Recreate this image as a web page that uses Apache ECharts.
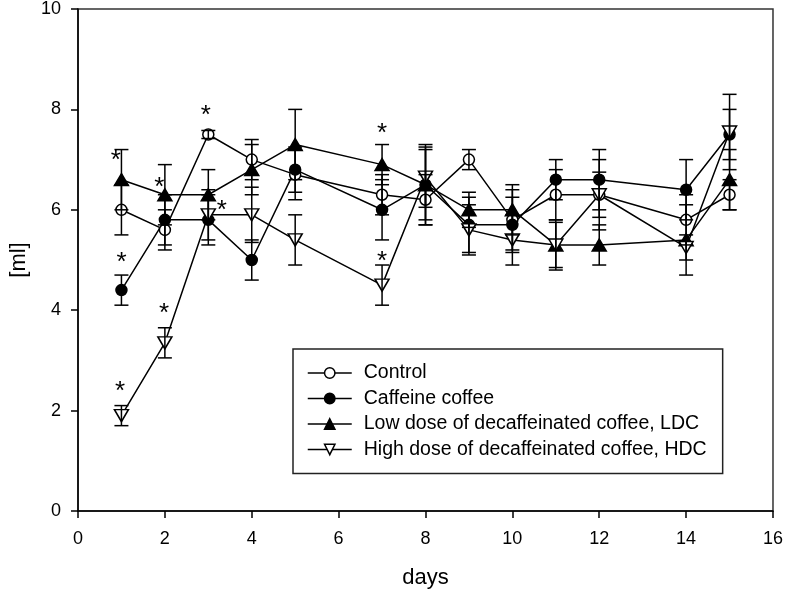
<!DOCTYPE html>
<html>
<head>
<meta charset="utf-8">
<script src="https://cdn.jsdelivr.net/npm/echarts@6/dist/echarts.min.js"></script>
<style>
html,body{margin:0;padding:0;background:#fff;}
#c{width:786px;height:594px;}
</style>
</head>
<body>
<div id="c"></div>
<script>
// ---- data ----
var days = [1, 2, 3, 4, 5, 7, 8, 9, 10, 11, 12, 14, 15];
var control     = [6.0, 5.6, 7.5, 7.0, 6.7, 6.3, 6.2, 7.0, 5.8, 6.3, 6.3, 5.8, 6.3];
var controlErr  = [0.5, 0.4, 0.08, 0.4, 0.5, 0.4, 0.5, 0.2, 0.6, 0.5, 0.45, 0.5, 0.3];
var caffeine    = [4.4, 5.8, 5.8, 5.0, 6.8, 6.0, 6.5, 5.7, 5.7, 6.6, 6.6, 6.4, 7.5];
var caffeineErr = [0.3, 0.5, 0.5, 0.4, 0.45, 0.6, 0.7, 0.55, 0.55, 0.4, 0.6, 0.6, 0.5];
var ldc         = [6.6, 6.3, 6.3, 6.8, 7.3, 6.9, 6.5, 6.0, 6.0, 5.3, 5.3, 5.4, 6.6];
var ldcErr      = [0.6, 0.6, 0.5, 0.5, 0.7, 0.4, 0.8, 0.35, 0.5, 0.5, 0.4, 0.7, 0.6];
var hdc         = [1.9, 3.35, 5.9, 5.9, 5.4, 4.5, 6.65, 5.6, 5.4, 5.3, 6.3, 5.25, 7.55];
var hdcErr      = [0.2, 0.3, 0.5, 0.55, 0.5, 0.4, 0.6, 0.5, 0.5, 0.45, 0.7, 0.25, 0.75];
var seriesNames = ['Control', 'Caffeine coffee', 'Low dose of decaffeinated coffee, LDC', 'High dose of decaffeinated coffee, HDC'];
// significance asterisks (day, ml)
var starX = [0.87, 1.0, 0.97, 1.87, 1.98, 2.94, 3.31, 7.0, 7.0];
var starY = [7.09, 5.06, 2.49, 6.55, 4.04, 7.99, 6.1, 7.63, 5.08];
var xTicks = [0, 16, 2];
var yTicks = [0, 10, 2];

// ---- chart ----
var FONT = 'Liberation Sans, Arial, Helvetica, sans-serif';
var chart = echarts.init(document.getElementById('c'), null, {renderer: 'canvas'});

function pts(v) { return days.map(function (d, i) { return [d, v[i]]; }); }
function errs(v, e) { return days.map(function (d, i) { return [d, v[i] - e[i], v[i] + e[i]]; }); }

var styles = [
  {symbol: 'circle', size: 11, rot: 0, fill: '#fff'},
  {symbol: 'circle', size: 11, rot: 0, fill: '#000'},
  {symbol: 'triangle', size: [14, 12], rot: 0, fill: '#000'},
  {symbol: 'triangle', size: [14, 12], rot: 180, fill: '#fff'}
];
var vals = [control, caffeine, ldc, hdc];
var errv = [controlErr, caffeineErr, ldcErr, hdcErr];

function errRender(params, api) {
  var x = api.value(0), lo = api.value(1), hi = api.value(2);
  var a = api.coord([x, hi]), b = api.coord([x, lo]);
  var w = 7;
  var st = {stroke: '#000', lineWidth: 1.5};
  return {type: 'group', children: [
    {type: 'line', shape: {x1: a[0], y1: a[1], x2: b[0], y2: b[1]}, style: st},
    {type: 'line', shape: {x1: a[0] - w, y1: a[1], x2: a[0] + w, y2: a[1]}, style: st},
    {type: 'line', shape: {x1: b[0] - w, y1: b[1], x2: b[0] + w, y2: b[1]}, style: st}
  ]};
}

var series = [];
vals.forEach(function (v, k) {
  var s = styles[k];
  series.push({
    name: seriesNames[k], type: 'line', data: pts(v),
    symbol: s.symbol, symbolSize: s.size, symbolRotate: s.rot, showAllSymbol: true,
    lineStyle: {color: '#000', width: 1.5},
    itemStyle: {color: s.fill, borderColor: '#000', borderWidth: 1.5},
    emphasis: {disabled: true}, animation: false, z: 3
  });
});
vals.forEach(function (v, k) {
  series.push({
    name: 'err' + k, type: 'custom', data: errs(v, errv[k]), renderItem: errRender,
    silent: true, animation: false, z: 4
  });
});
series.push({
  name: 'stars', type: 'custom', silent: true, animation: false, z: 5,
  data: starX.map(function (x, i) { return [x, starY[i]]; }),
  renderItem: function (params, api) {
    var p = api.coord([api.value(0), api.value(1)]);
    return {type: 'text', x: p[0], y: p[1] + 6,
      style: {text: '*', fontSize: 26, fontFamily: FONT, align: 'center', verticalAlign: 'middle', fill: '#000'}};
  }
});

var axisCommon = {
  axisLine: {show: true, onZero: false, lineStyle: {color: '#000', width: 1.5}},
  axisTick: {show: true, inside: false, length: 7, lineStyle: {color: '#000', width: 1.5}},
  splitLine: {show: false},
  nameTextStyle: {fontFamily: FONT, fontSize: 22, color: '#000'}
};

chart.setOption({
  animation: false,
  backgroundColor: '#fff',
  grid: {left: 78, right: 12, top: 9, bottom: 83, show: true, borderColor: '#333', borderWidth: 1.5, containLabel: false},
  xAxis: Object.assign({}, axisCommon, {
    type: 'value', min: xTicks[0], max: xTicks[1], interval: xTicks[2],
    name: 'days', nameLocation: 'middle', nameGap: 56,
    axisLabel: {fontFamily: FONT, fontSize: 18, color: '#000', margin: 19}
  }),
  yAxis: Object.assign({}, axisCommon, {
    type: 'value', min: yTicks[0], max: yTicks[1], interval: yTicks[2],
    name: '[ml]', nameLocation: 'middle', nameGap: 48, nameRotate: 90,
    axisLabel: {fontFamily: FONT, fontSize: 18, color: '#000', margin: 17}
  }),
  legend: {
    show: true, orient: 'vertical', left: 293, top: 349,
    padding: [14, 16, 14, 14], itemGap: 5.5, itemWidth: 44, itemHeight: 13,
    borderColor: '#222', borderWidth: 1.5, backgroundColor: '#fff',
    selectedMode: false,
    textStyle: {fontFamily: FONT, fontSize: 19.5, color: '#000', lineHeight: 19.5, padding: [0, 0, 0, 7]},
    data: seriesNames.map(function (n, k) {
      return {name: n, itemStyle: {color: styles[k].fill, borderColor: '#000', borderWidth: 1.5},
        lineStyle: {color: '#000', width: 1.5}};
    })
  },
  series: series
});
</script>
</body>
</html>
